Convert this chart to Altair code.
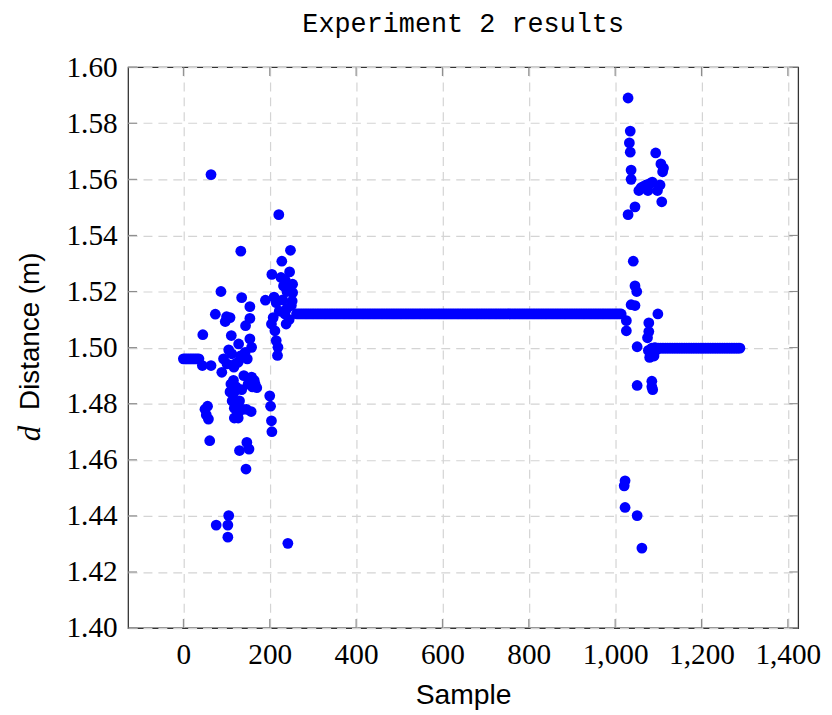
import altair as alt
import pandas as pd

# ---- scattered samples (sample index, distance in m) ----
scatter_x = [
    44, 64, 45, 64, 56, 50, 53, 58, 61, 76, 74, 87, 89, 93, 97, 100, 108, 101, 105, 111,
    112, 117, 120, 116, 108, 117, 126, 118, 118, 127, 127, 127, 128, 143, 144, 133, 135, 154, 154, 154,
    158, 146, 157, 150, 158, 164, 170, 147, 130, 152, 145, 105, 103, 103, 242, 190, 200, 202, 204, 205,
    205, 221, 248, 228, 246, 253, 253, 252, 236, 240, 245, 208, 204, 212, 215, 219, 218, 238, 222, 230,
    240, 232, 226, 250, 245, 235, 215, 210, 110, 122, 135, 140, 132, 148, 113, 138, 130, 160, 166,
    1030, 1035, 1035, 1033, 1037, 1037, 1030, 1055, 1046, 1042, 1046, 1050, 1037, 1046, 1026, 1026,
    1051, 1051, 1023, 1021, 1023, 1051, 1062, 1060, 1066, 1072, 1080, 1076, 1086, 1094, 1098, 1106,
    1110, 1104, 1112, 1108, 1099, 1078, 1078, 1075, 1077, 1080, 1085, 1087, 1085, 1083, 1090, 1094, 1092,
]
scatter_y = [
    1.4936, 1.4936, 1.5046, 1.5617, 1.4791, 1.4780, 1.4760, 1.4745, 1.4668, 1.4367, 1.5119, 1.5200, 1.4912, 1.4960, 1.5093, 1.5110, 1.5107, 1.4942, 1.4992, 1.5043,
    1.4978, 1.4930, 1.4942, 1.4883, 1.4842, 1.4840, 1.4790, 1.4784, 1.4749, 1.4766, 1.4749, 1.4948, 1.5013, 1.4983, 1.5078, 1.5344, 1.5178, 1.5146, 1.5104, 1.5031,
    1.5001, 1.4780, 1.4772, 1.4870, 1.4895, 1.4883, 1.4857, 1.4662, 1.4633, 1.4638, 1.4567, 1.4401, 1.4367, 1.4324, 1.4302, 1.5169, 1.4828, 1.4791, 1.4739, 1.4700,
    1.5261, 1.5474, 1.5347, 1.5308, 1.5270, 1.5226, 1.5196, 1.5166, 1.5240, 1.5200, 1.5215, 1.5107, 1.5084, 1.5060, 1.5025, 1.5001, 1.4972, 1.5084, 1.5130, 1.5170,
    1.5140, 1.5220, 1.5250, 1.5150, 1.5100, 1.5120, 1.5160, 1.5180, 1.4870, 1.4860, 1.4850, 1.4900, 1.4970, 1.4960, 1.4810, 1.4780, 1.4810, 1.4860, 1.4870,
    1.5890, 1.5772, 1.5697, 1.5730, 1.5633, 1.5600, 1.5474, 1.5560, 1.5502, 1.5308, 1.5220, 1.5200, 1.5153, 1.5150, 1.5096, 1.5060,
    1.5003, 1.4865, 1.4525, 1.4507, 1.4430, 1.4401, 1.4285, 1.5570, 1.5575, 1.5580, 1.5585, 1.5560, 1.5590, 1.5694, 1.5560, 1.5655,
    1.5627, 1.5580, 1.5640, 1.5520, 1.5120, 1.5088, 1.5057, 1.5035, 1.4990, 1.4965, 1.4880, 1.4850, 1.4860, 1.4975, 1.4970, 1.4990, 1.5000,
]

# ---- runs of consecutive samples sitting at one constant reading ----
run_start = [0, 262, 1085]
run_end = [36, 1015, 1292]
run_value = [1.496, 1.512, 1.4998]
run_step = 4

# ---- axis ticks ----
x_ticks = [0, 200, 400, 600, 800, 1000, 1200, 1400]
y_ticks = [1.40, 1.42, 1.44, 1.46, 1.48, 1.50, 1.52, 1.54, 1.56, 1.58, 1.60]
x_domain = [-128, 1424]
y_domain = [1.40, 1.60]

W, H = 675, 565

xs, ys = list(scatter_x), list(scatter_y)
for s, e, v in zip(run_start, run_end, run_value):
    for k in range(s, e + 1, run_step):
        xs.append(k)
        ys.append(v)
points_df = pd.DataFrame({"x": xs, "y": ys})

X = alt.X("x:Q", scale=alt.Scale(domain=x_domain, nice=False, zero=False),
          axis=alt.Axis(values=x_ticks, format=",d", title="Sample", grid=True,
                        ticks=False, tickSize=0, domain=False, labelPadding=13,
                        labelFontSize=29.5, labelFont="Liberation Serif", labelColor="black",
                        labelFlush=False, labelOverlap=False,
                        titleFont="Liberation Sans", titleFontSize=28.5, titleFontWeight="normal",
                        titleColor="black", titleY=76, titleBaseline="alphabetic"))
Y = alt.Y("y:Q", scale=alt.Scale(domain=y_domain, nice=False, zero=False),
          axis=alt.Axis(values=y_ticks, format=".2f", title=None, grid=True,
                        ticks=False, tickSize=0, domain=False, labelPadding=11,
                        labelFontSize=29.5, labelFont="Liberation Serif", labelColor="black",
                        labelFlush=False, labelOverlap=False))

points = alt.Chart(points_df).mark_circle(size=118, color="#0000ff", opacity=1).encode(x=X, y=Y)

xt = pd.DataFrame({"x": x_ticks})
yt = pd.DataFrame({"y": y_ticks})
tick_style = dict(color="#8c8c8c", strokeWidth=1.1)
xt_bottom = alt.Chart(xt).mark_rule(**tick_style).encode(x=X, y=alt.value(H), y2=alt.value(H - 9))
xt_top = alt.Chart(xt).mark_rule(**tick_style).encode(x=X, y=alt.value(0), y2=alt.value(9))
yt_left = alt.Chart(yt).mark_rule(**tick_style).encode(y=Y, x=alt.value(0), x2=alt.value(9))
yt_right = alt.Chart(yt).mark_rule(**tick_style).encode(y=Y, x=alt.value(W), x2=alt.value(W - 9))

ytitle_d = alt.Chart(pd.DataFrame({"t": ["d"]})).mark_text(
    text="d", font="Liberation Serif", fontStyle="italic", fontSize=31, angle=270,
    align="center", baseline="middle", color="black"
).encode(x=alt.value(-98), y=alt.value(369))
ytitle_rest = alt.Chart(pd.DataFrame({"t": ["Distance (m)"]})).mark_text(
    text="Distance (m)", font="Liberation Sans", fontSize=28, angle=270,
    align="center", baseline="middle", color="black"
).encode(x=alt.value(-98), y=alt.value(266))
main_title = alt.Chart(pd.DataFrame({"t": ["Experiment 2 results"]})).mark_text(
    text="Experiment 2 results", font="Liberation Mono", fontSize=27,
    align="center", baseline="middle", color="black"
).encode(x=alt.value(W / 2), y=alt.value(-43))

chart = alt.layer(points, xt_bottom, xt_top, yt_left, yt_right,
                  ytitle_d, ytitle_rest, main_title).properties(
    width=W, height=H,
    padding={"left": 121, "top": 57, "right": 26, "bottom": 84},
    autosize=alt.AutoSizeParams(type="none"),
).configure_view(stroke="#333333", strokeWidth=1.3).configure_axis(
    gridColor="#d4d4d4", gridDash=[9, 6], gridWidth=1.2
)

chart.save("out.html", embed_options={"renderer": "svg", "actions": False})
